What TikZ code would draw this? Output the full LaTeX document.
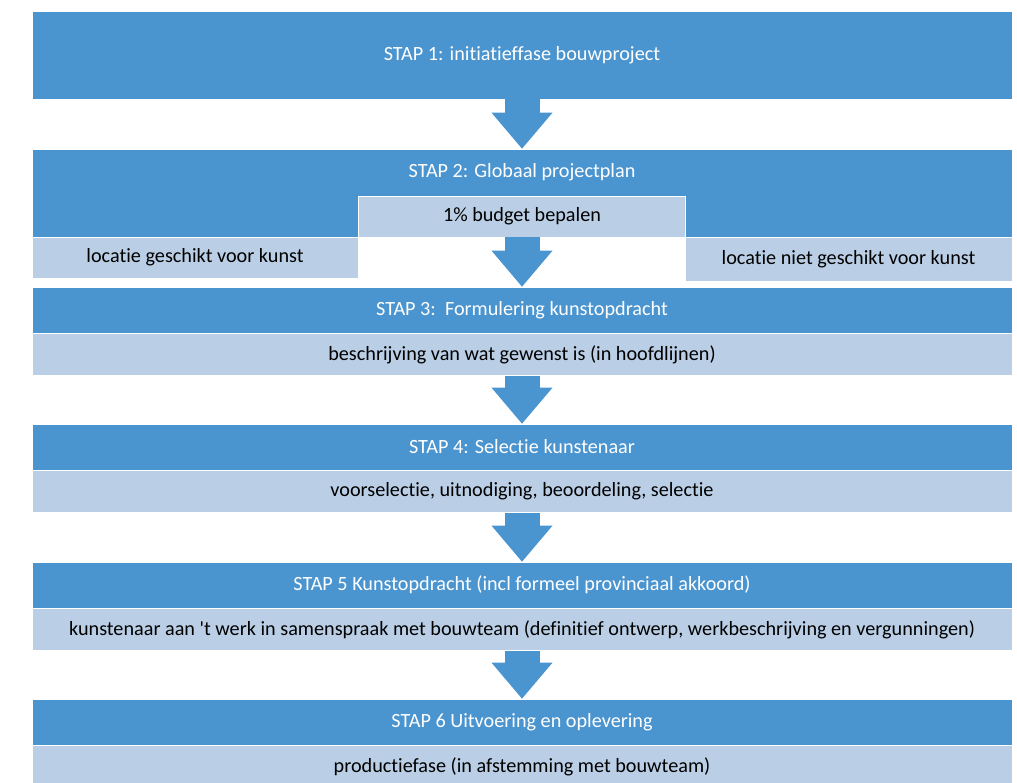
\documentclass[tikz,border=0pt]{standalone}
\usepackage{fontspec}
\setmainfont[Ligatures={TeX,NoCommon}]{Carlito}
\usetikzlibrary{positioning, arrows.meta}
\definecolor{stapblue}{RGB}{74,148,207}
\definecolor{lightblue}{RGB}{186,207,230}

\begin{document}
\begin{tikzpicture}[x=0.02cm, y=-0.02cm, font=\fontsize{11.5}{13}\selectfont,
    stap/.style={fill=stapblue, draw=white, line width=0.4pt, text=white, minimum width=19.6cm, inner sep=0pt},
    sub/.style={fill=lightblue, draw=white, line width=0.4pt, text=black, minimum width=19.6cm, minimum height=0.84cm, inner sep=0pt},
    blockarrow/.style={draw=stapblue, line width=0.7cm, -{Triangle[length=0.72cm, width=1.22cm, line width=0pt]}}]
\useasboundingbox (0,0) rectangle (1017,782);
% stap 1 en 2
\node[stap, minimum height=1.76cm] (s1) at (522,55) {STAP 1: initiatieffase bouwproject};
\node[stap, minimum height=1.76cm] (s2) at (522,193) {};
\node[text=white] (t2) at (522,172) {STAP 2: Globaal projectplan};
\node[sub, minimum width=6.54cm, minimum height=0.82cm] (budget) at (522,216.5) {1\% budget bepalen};
\node[sub, minimum width=6.52cm, minimum height=0.82cm] (wel) at (195,257.5) {locatie geschikt voor kunst};
\node[sub, minimum width=6.54cm, minimum height=0.88cm] (niet) at (848.5,259) {locatie niet geschikt voor kunst};
% stap 3 t/m 6
\foreach \n/\y/\titel/\tekst in {
    3/310/{STAP 3:~~Formulering kunstopdracht}/{beschrijving van wat gewenst is (in hoofdlijnen)},
    4/447/{STAP 4: Selectie kunstenaar}/{voorselectie, uitnodiging, beoordeling, selectie},
    5/585/{STAP 5 Kunstopdracht (incl formeel provinciaal akkoord)}/{kunstenaar aan \textquotesingle t werk in samenspraak met bouwteam (definitief ontwerp, werkbeschrijving en vergunningen)},
    6/722/{STAP 6 Uitvoering en oplevering}/{productiefase (in afstemming met bouwteam)}}
{
    \node[stap, minimum height=0.92cm] (s\n) at (522,\y) {\titel};
    \node[sub, below=0pt of s\n] (d\n) {\tekst};
}
% pijlen
\draw[blockarrow] (s1.south) -- (s2.north);
\draw[blockarrow] (budget.south) -- (s3.north);
\foreach \a/\b in {3/4,4/5,5/6}
{
    \draw[blockarrow] (d\a.south) -- (s\b.north);
}
\end{tikzpicture}
\end{document}
